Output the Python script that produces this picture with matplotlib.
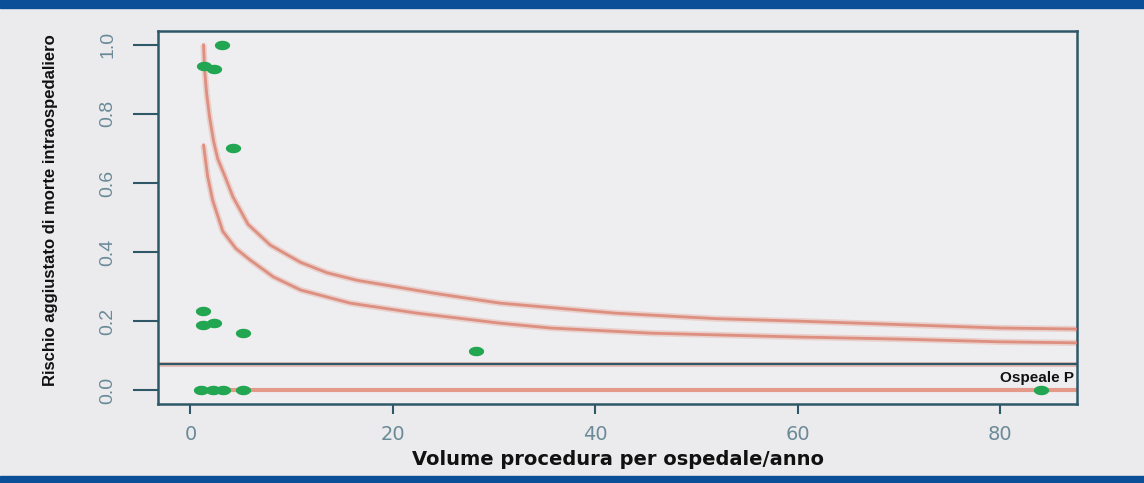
import numpy as np
import matplotlib
matplotlib.use("Agg")
import matplotlib.pyplot as plt
from matplotlib.path import Path

# ---- data ----
upper_x = [1.3, 1.4, 1.6, 1.9, 2.3, 2.7, 3.4, 4.2, 5.7, 7.9, 10.9, 13.5, 16.5, 24.0, 30.6, 42.0, 52.0, 60.0, 70.0, 80.0, 87.6]
upper_y = [1.00, 0.93, 0.86, 0.79, 0.72, 0.67, 0.62, 0.56, 0.48, 0.42, 0.37, 0.34, 0.318, 0.281, 0.252, 0.223, 0.207, 0.200, 0.19, 0.18, 0.177]

lower_x = [1.3, 1.7, 2.2, 3.2, 4.5, 5.9, 8.2, 10.9, 15.8, 22.4, 30.6, 35.6, 45.5, 60.0, 70.0, 80.0, 87.6]
lower_y = [0.71, 0.62, 0.55, 0.46, 0.41, 0.377, 0.328, 0.29, 0.252, 0.223, 0.194, 0.18, 0.165, 0.154, 0.148, 0.14, 0.137]

hosp_x = [3.1, 1.3, 2.3, 4.2, 1.2, 1.2, 2.3, 5.2, 28.2, 1.0, 2.2, 3.2, 5.2, 84.0]
hosp_y = [1.00, 0.94, 0.93, 0.70, 0.23, 0.19, 0.195, 0.165, 0.113, 0.0, 0.0, 0.0, 0.0, 0.0]

ref_level = 0.075
zero_line_x = [0.8, 88.0]
zero_line_y = [0.0, 0.0]

x_ticks = [0, 20, 40, 60, 80]
y_ticks = [0.0, 0.2, 0.4, 0.6, 0.8, 1.0]
y_tick_labels = ["0.0", "0.2", "0.4", "0.6", "0.8", "1.0"]
label_text = "Ospeale P"
x_label = "Volume procedura per ospedale/anno"
y_label = "Rischio aggiustato di morte intraospedaliero"

# ---- styling ----
BG = "#ebebed"
FRAME = "#2e5868"
SALMON = "#e49a8a"
GREEN = "#22a652"
TICKCOL = "#6a8a97"

W, H = 1144, 483
fig = plt.figure(figsize=(W / 100, H / 100), dpi=100, facecolor=BG)

# blue bands top and bottom
fig.add_artist(plt.Rectangle((0, 1 - 8 / H), 1, 8 / H, transform=fig.transFigure, color="#0b4f98", zorder=0))
fig.add_artist(plt.Rectangle((0, 0), 1, 7 / H, transform=fig.transFigure, color="#0b4f98", zorder=0))

left, right, top, bottom = 158, 1077, 31, 404
ax = fig.add_axes([left / W, 1 - bottom / H, (right - left) / W, (bottom - top) / H])
ax.set_facecolor("#eeeef0")
ax.set_xlim(-3.2, 87.6)
ax.set_ylim(-0.04, 1.04)

# curves (with a faint halo)
for xs, ys in [(upper_x, upper_y), (lower_x, lower_y)]:
    ax.plot(xs, ys, color=SALMON, lw=4.5, alpha=0.35, solid_capstyle="butt", zorder=2)
    ax.plot(xs, ys, color="#dc8878", lw=2.0, alpha=0.9, zorder=3)

# zero line and reference line
ax.plot(zero_line_x, zero_line_y, color=SALMON, lw=3.0, zorder=2)
ax.axhline(ref_level, color=SALMON, lw=3.5, alpha=0.6, zorder=2)
ax.axhline(ref_level, color=FRAME, lw=1.6, zorder=3)

# ellipse marker
t = np.linspace(0, 2 * np.pi, 40)
ell = Path(np.column_stack([np.cos(t), 0.62 * np.sin(t)]), closed=True)
ax.plot(hosp_x, hosp_y, linestyle="none", marker=ell, markersize=11,
        color=GREEN, markeredgewidth=0, zorder=5)

ax.text(87.3, 0.034, label_text, ha="right", va="center", fontsize=11,
        fontweight="bold", color="#111111", family=["Liberation Sans", "DejaVu Sans"], zorder=6)

# frame
for s in ax.spines.values():
    s.set_color(FRAME)
    s.set_linewidth(1.8)

ax.set_xticks(x_ticks)
ax.set_xticklabels([str(v) for v in x_ticks], fontsize=14, color=TICKCOL,
                   family=["DejaVu Sans"])
ax.set_yticks(y_ticks)
ax.set_yticklabels(y_tick_labels, rotation=90, va="center", fontsize=14, color=TICKCOL,
                   family=["Liberation Sans", "DejaVu Sans"])
ax.tick_params(axis="x", length=7, width=1.5, color=FRAME, pad=8)
ax.tick_params(axis="y", length=18, width=1.5, color=FRAME, pad=12)

ax.set_xlabel(x_label, fontsize=14, fontweight="bold", color="#111111")
ax.xaxis.set_label_coords(0.5, -0.123)
ax.set_ylabel(y_label, fontsize=12, fontweight="bold", color="#111111",
              family=["Liberation Sans", "DejaVu Sans"])
ax.yaxis.set_label_coords(-0.109, 0.52)

fig.savefig("out.png", dpi=100, facecolor=BG)
